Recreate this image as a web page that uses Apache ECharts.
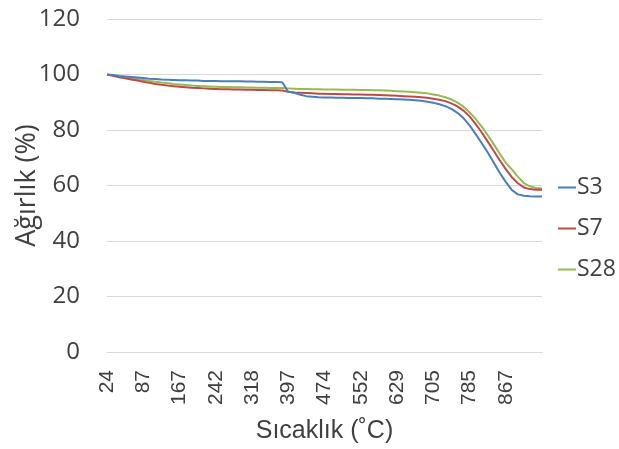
<!DOCTYPE html>
<html>
<head>
<meta charset="utf-8">
<script src="https://cdn.jsdelivr.net/npm/echarts@6/dist/echarts.min.js"></script>
<style>
  html, body { margin: 0; padding: 0; background: #ffffff; }
  #chart { width: 619px; height: 449px; }
</style>
</head>
<body>
<div id="chart"></div>
<script>
// Temperature readings (°C) for each sample point
const temperatures = [
  24, 34, 45, 55, 66, 76,
  87, 100, 114, 127, 140, 154,
  167, 180, 192, 205, 217, 230,
  242, 255, 267, 280, 293, 305,
  318, 331, 344, 357, 371, 384,
  397, 410, 423, 436, 448, 461,
  474, 487, 500, 513, 526, 539,
  552, 565, 578, 590, 603, 616,
  629, 642, 654, 667, 680, 692,
  705, 718, 732, 745, 758, 772,
  785, 799, 812, 826, 840, 853,
  867, 880, 893, 906, 919, 932,
  945
];

// Remaining mass (%) for each sample
const s3 = [
  100, 99.8, 99.5, 99.3, 99.1, 98.9,
  98.7, 98.5, 98.4, 98.2, 98.1, 98.0,
  97.9, 97.9, 97.8, 97.8, 97.7, 97.7,
  97.7, 97.6, 97.6, 97.6, 97.6, 97.5,
  97.5, 97.4, 97.4, 97.3, 97.3, 97.2,
  93.8, 93.4, 92.7, 92.2, 92.0, 91.8,
  91.7, 91.7, 91.6, 91.6, 91.5, 91.5,
  91.5, 91.4, 91.4, 91.3, 91.3, 91.2,
  91.1, 91.0, 90.9, 90.7, 90.5, 90.2,
  89.8, 89.3, 88.6, 87.6, 86.2, 84.3,
  81.7, 78.6, 75.3, 72.0, 68.3, 64.6,
  61.3, 58.4, 56.8, 56.3, 56.1, 56.0,
  56.0
];

const s7 = [
  100, 99.5, 99.0, 98.6, 98.2, 97.8,
  97.4, 97.0, 96.6, 96.3, 96.0, 95.8,
  95.6, 95.4, 95.2, 95.1, 95.0, 94.9,
  94.8, 94.7, 94.7, 94.6, 94.6, 94.5,
  94.5, 94.4, 94.4, 94.3, 94.3, 94.2,
  93.8, 93.5, 93.4, 93.3, 93.2, 93.1,
  93.1, 93.0, 93.0, 92.9, 92.9, 92.8,
  92.8, 92.7, 92.7, 92.6, 92.5, 92.4,
  92.3, 92.2, 92.1, 92.0, 91.8, 91.6,
  91.3, 90.9, 90.4, 89.6, 88.5, 87.0,
  84.9, 82.2, 79.2, 75.9, 72.5, 69.1,
  65.9, 63.0, 60.8, 59.3, 58.7, 58.5,
  58.5
];

const s28 = [
  100, 99.6, 99.2, 98.9, 98.6, 98.3,
  98.0, 97.7, 97.4, 97.1, 96.9, 96.6,
  96.4, 96.2, 96.0, 95.9, 95.8, 95.7,
  95.6, 95.5, 95.5, 95.4, 95.4, 95.3,
  95.3, 95.2, 95.2, 95.1, 95.1, 95.1,
  95.0, 94.9, 94.8, 94.8, 94.7, 94.7,
  94.6, 94.6, 94.6, 94.5, 94.5, 94.5,
  94.4, 94.4, 94.3, 94.3, 94.2, 94.1,
  94.0, 93.9, 93.8, 93.6, 93.4, 93.2,
  92.8, 92.4, 91.8, 91.0, 89.9, 88.4,
  86.4, 84.0, 81.3, 78.2, 74.9, 71.5,
  68.2, 65.8, 63.2, 60.9, 59.7, 59.1,
  58.9
];

const seriesNames = ['S3', 'S7', 'S28'];
const seriesColors = ['#4A7EBB', '#BE4B48', '#98B954'];
const seriesData = [s3, s7, s28];

// Every sixth reading is labelled on the temperature axis
const labelStep = 6;

const chart = echarts.init(document.getElementById('chart'), null, { renderer: 'canvas' });

chart.setOption({
  animation: false,
  backgroundColor: '#ffffff',
  grid: { left: 107, right: 77, top: 19, bottom: 97, containLabel: false, outerBoundsMode: 'none' },
  legend: {
    orient: 'vertical',
    left: 553,
    top: 171,
    itemGap: 18,
    itemWidth: 18,
    itemHeight: 2,
    icon: 'rect',
    textStyle: { fontFamily: 'Open Sans', fontSize: 23, color: '#404040', padding: [0, 0, 0, -4] },
    data: seriesNames
  },
  xAxis: {
    type: 'category',
    data: temperatures.map(String),
    boundaryGap: false,
    name: 'Sıcaklık (˚C)',
    nameLocation: 'middle',
    nameGap: 67,
    nameMoveOverlap: false,
    nameTextStyle: { fontFamily: 'Liberation Sans', fontSize: 25, color: '#404040' },
    axisLine: { show: true, lineStyle: { color: '#D9D9D9', width: 1 } },
    axisTick: { show: false },
    axisLabel: {
      rotate: 90,
      margin: 18,
      fontFamily: 'Liberation Sans',
      fontSize: 21,
      color: '#404040',
      interval: function (index) {
        return index % labelStep === 0 && index < temperatures.length - 1;
      }
    },
    splitLine: { show: false }
  },
  yAxis: {
    type: 'value',
    min: 0,
    max: 120,
    interval: 20,
    name: 'Ağırlık (%)',
    nameLocation: 'middle',
    nameGap: 66,
    nameMoveOverlap: false,
    nameTextStyle: { fontFamily: 'Open Sans', fontSize: 27, color: '#404040' },
    axisLine: { show: false },
    axisTick: { show: false },
    axisLabel: { margin: 27, fontFamily: 'Open Sans', fontSize: 24, color: '#404040' },
    splitLine: { show: true, lineStyle: { color: '#D9D9D9', width: 1 } }
  },
  series: seriesNames.map(function (name, i) {
    return {
      name: name,
      type: 'line',
      data: seriesData[i],
      showSymbol: false,
      symbol: 'none',
      smooth: false,
      lineStyle: { color: seriesColors[i], width: 2 },
      itemStyle: { color: seriesColors[i] },
      z: 3 - i
    };
  })
});
</script>
</body>
</html>
